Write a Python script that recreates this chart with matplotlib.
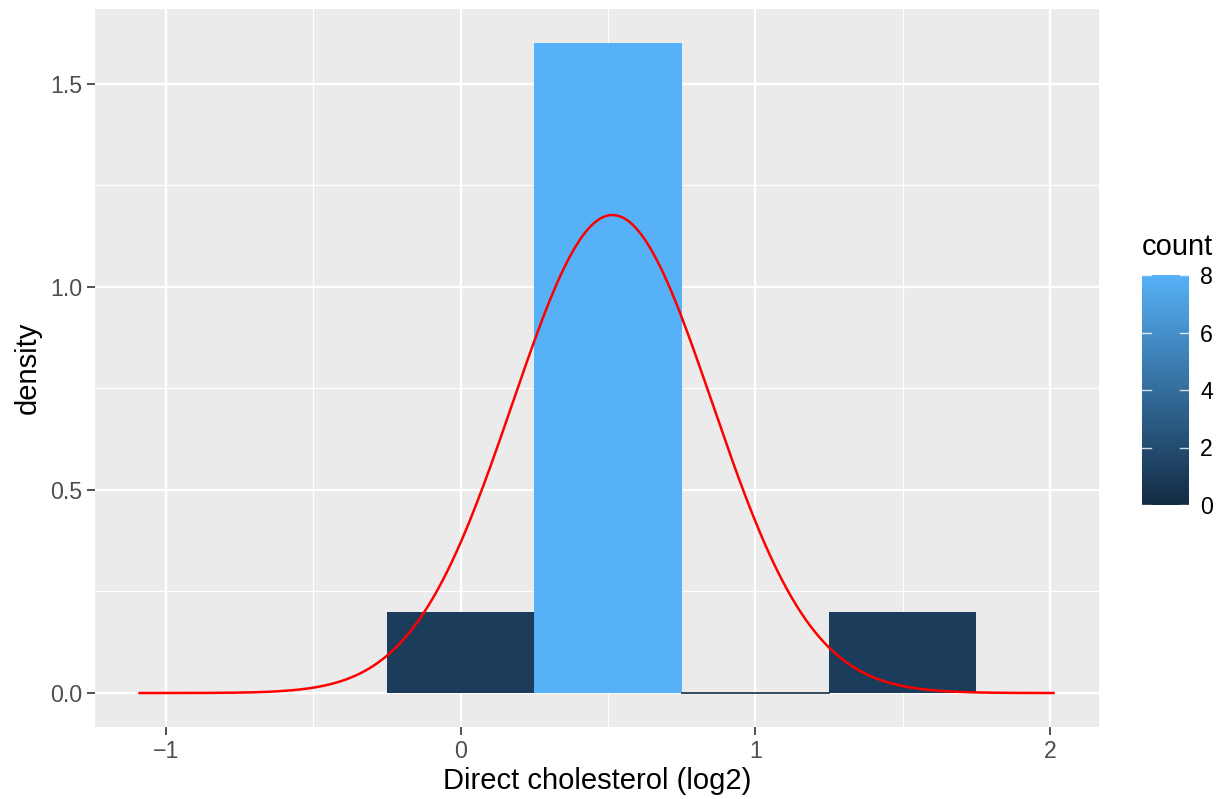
import numpy as np
import matplotlib
matplotlib.use("Agg")
import matplotlib.pyplot as plt
from matplotlib.colors import LinearSegmentedColormap, Normalize

plt.rcParams['font.family'] = ['Liberation Sans', 'DejaVu Sans']

# Histogram bins (log2 direct cholesterol), counts per bin
bin_edges = [-0.25, 0.25, 0.75, 1.25, 1.75]
counts = [1, 8, 0, 1]
n_total = 10
bin_width = 0.5

# Fitted normal curve parameters
curve_mean = 0.515
curve_sd = 0.339
curve_xmin = -1.09
curve_xmax = 2.012

x_ticks = [-1, 0, 1, 2]
x_ticklabels = ["\u22121", "0", "1", "2"]
y_ticks = [0.0, 0.5, 1.0, 1.5]
y_ticklabels = ["0.0", "0.5", "1.0", "1.5"]
cbar_ticks = [0, 2, 4, 6, 8]

cmap = LinearSegmentedColormap.from_list("gg", ["#132B43", "#56B1F7"])
norm = Normalize(vmin=0, vmax=8)

TICK_FS = 16.7
TITLE_FS = 21

fig = plt.figure(figsize=(12.25, 7.99), dpi=100)
ax = fig.add_axes([95/1225, 1-727/799, (1099-95)/1225, (727-9)/799])
ax.set_facecolor("#EBEBEB")
for s in ax.spines.values():
    s.set_visible(False)

ax.set_xlim(-1.2415, 2.1667)
ax.set_ylim(-0.0836, 1.684)

# grid
for v in [-0.5, 0.5, 1.5]:
    ax.axvline(v, color="white", lw=0.8, zorder=0)
for v in [0.25, 0.75, 1.25]:
    ax.axhline(v, color="white", lw=0.8, zorder=0)
for v in x_ticks:
    ax.axvline(v, color="white", lw=1.6, zorder=0)
for v in y_ticks:
    ax.axhline(v, color="white", lw=1.6, zorder=0)

# bars
for i, c in enumerate(counts):
    left = bin_edges[i]
    dens = c / (n_total * bin_width)
    col = cmap(norm(c))
    if dens > 0:
        ax.bar(left, dens, width=bin_width, align="edge", color=col, zorder=2, linewidth=0)
    else:
        ax.plot([left, left + bin_width], [0, 0], color=col, lw=1.2, zorder=2)

# normal curve
xs = np.linspace(curve_xmin, curve_xmax, 400)
ys = np.exp(-0.5 * ((xs - curve_mean) / curve_sd) ** 2) / (curve_sd * np.sqrt(2 * np.pi))
ax.plot(xs, ys, color="red", lw=1.8, zorder=3)

ax.set_xticks(x_ticks)
ax.set_xticklabels(x_ticklabels)
ax.set_yticks(y_ticks)
ax.set_yticklabels(y_ticklabels)
ax.tick_params(axis="both", colors="#333333", length=6, width=1.2, labelsize=TICK_FS,
               labelcolor="#4D4D4D", pad=3)
ax.set_xlabel("Direct cholesterol (log2)", fontsize=TITLE_FS, color="black", labelpad=3)
ax.set_ylabel("density", fontsize=TITLE_FS, color="black", labelpad=6)

# colorbar legend
cax = fig.add_axes([1142/1225, 1-505/799, 47/1225, 230/799])
grad = np.linspace(0, 8, 256).reshape(-1, 1)
cax.imshow(grad, aspect="auto", cmap=cmap, norm=norm, origin="lower",
           extent=[0, 1, 0, 8])
cax.set_xlim(0, 1)
cax.set_ylim(0, 8)
for s in cax.spines.values():
    s.set_visible(False)
cax.set_xticks([])
for t in cbar_ticks:
    cax.plot([0, 0.2], [t, t], color="white", lw=1.0, alpha=0.8, clip_on=False)
    cax.plot([0.8, 1.0], [t, t], color="white", lw=1.0, alpha=0.8, clip_on=False)
cax.yaxis.tick_right()
cax.set_yticks(cbar_ticks)
cax.set_yticklabels([str(t) for t in cbar_ticks])
cax.tick_params(axis="y", length=0, labelsize=TICK_FS, labelcolor="black", pad=8)
fig.text(1142/1225, 1-247/799, "count", fontsize=TITLE_FS, ha="left", va="center")

fig.savefig("out.png", dpi=100)
